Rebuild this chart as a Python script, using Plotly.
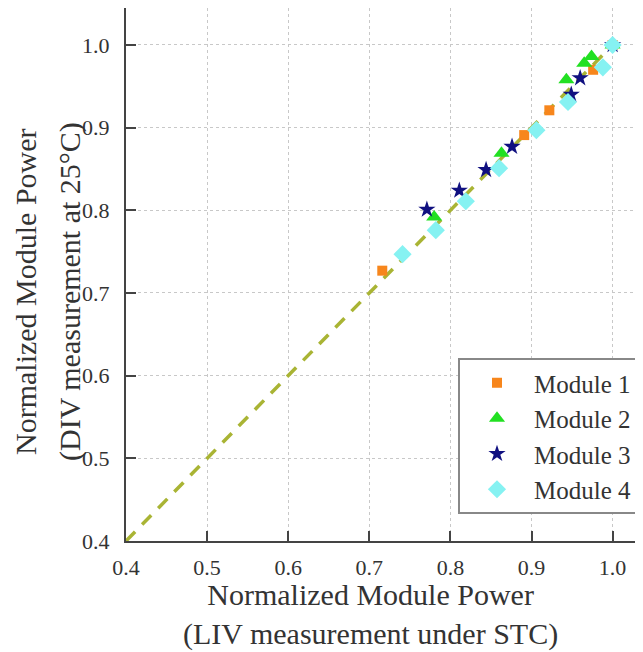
import plotly.graph_objects as go

# Data
m1_x = [0.716, 0.891, 0.922, 0.976, 1.0]
m1_y = [0.727, 0.891, 0.921, 0.970, 1.0]

m2_x = [0.780, 0.863, 0.943, 0.965, 0.974, 1.0]
m2_y = [0.792, 0.869, 0.958, 0.978, 0.986, 1.0]

m3_x = [0.771, 0.811, 0.844, 0.876, 0.949, 0.960, 1.0]
m3_y = [0.801, 0.824, 0.849, 0.877, 0.940, 0.960, 1.0]

m4_x = [0.741, 0.782, 0.819, 0.860, 0.906, 0.945, 0.988, 1.0]
m4_y = [0.747, 0.776, 0.811, 0.851, 0.897, 0.931, 0.973, 1.0]

ref_line = [0.4, 1.0]
tick_vals = [0.4, 0.5, 0.6, 0.7, 0.8, 0.9, 1.0]
tick_text = ["0.4", "0.5", "0.6", "0.7", "0.8", "0.9", "1.0"]

FONT = "Liberation Serif"
TXT = "#333333"

# page has an 8px body margin; figure coords = page coords - 8
W, H = 635, 644
L, T, B, R = 118, 0, 111, 0
PW, PH = W - L - R, H - T - B


def px(page_x):
    return (page_x - 8 - L) / PW


def py(page_y):
    return (H - B - (page_y - 8)) / PH


fig = go.Figure()
fig.add_trace(go.Scatter(x=ref_line, y=ref_line, mode="lines",
                         line=dict(color="#a9b434", width=3.5, dash="13px,10px"),
                         showlegend=False, hoverinfo="skip"))
fig.add_trace(go.Scatter(x=m1_x, y=m1_y, mode="markers", name="Module 1",
                         legendgroup="1",
                         marker=dict(symbol="square", size=10, color="#f7861c")))
fig.add_trace(go.Scatter(x=m2_x, y=m2_y, mode="markers", name="Module 2",
                         legendgroup="2",
                         marker=dict(symbol="triangle-up", size=14, color="#22e022")))
fig.add_trace(go.Scatter(x=m3_x, y=m3_y, mode="markers", name="Module 3",
                         legendgroup="3",
                         marker=dict(symbol="star", size=13, color="#101080")))
fig.add_trace(go.Scatter(x=m4_x, y=m4_y, mode="markers", name="Module 4",
                         legendgroup="4",
                         marker=dict(symbol="diamond", size=14, color="#86f2f2")))

axis_common = dict(
    tickvals=tick_vals, ticktext=tick_text,
    ticks="inside", ticklen=10, tickwidth=2, tickcolor="#444444",
    showline=True, linecolor="#444444", linewidth=2,
    showgrid=True, gridcolor="#c8c8c8", gridwidth=1, griddash="dot",
    zeroline=False,
    tickfont=dict(family=FONT, size=22, color=TXT),
)

x_max = 0.4 + PW / 811.0
y_max = 0.4 + PH / 826.7

fig.update_layout(
    width=W, height=H,
    margin=dict(l=L, r=R, t=T, b=B),
    paper_bgcolor="white", plot_bgcolor="white",
    xaxis=dict(range=[0.4, x_max], ticklabelstandoff=6, **axis_common),
    yaxis=dict(range=[0.4, y_max], ticklabelstandoff=10, **axis_common),
    legend=dict(x=px(458), y=py(358), xanchor="left", yanchor="top",
                bgcolor="white", bordercolor="#888888", borderwidth=2,
                font=dict(family=FONT, size=25, color=TXT),
                itemwidth=64, tracegroupgap=0),
    annotations=[
        dict(text="Normalized Module Power<br>(LIV measurement under STC)",
             xref="paper", yref="paper", x=px(370), y=py(614),
             xanchor="center", yanchor="middle", showarrow=False,
             font=dict(family=FONT, size=30, color=TXT)),
        dict(text="Normalized Module Power",
             xref="paper", yref="paper", x=px(26), y=py(292),
             xanchor="center", yanchor="middle", showarrow=False, textangle=-90,
             font=dict(family=FONT, size=30, color=TXT)),
        dict(text="(DIV measurement at 25°C)",
             xref="paper", yref="paper", x=px(70), y=py(292),
             xanchor="center", yanchor="middle", showarrow=False, textangle=-90,
             font=dict(family=FONT, size=30, color=TXT)),
    ],
)

fig.write_html("out.html")
